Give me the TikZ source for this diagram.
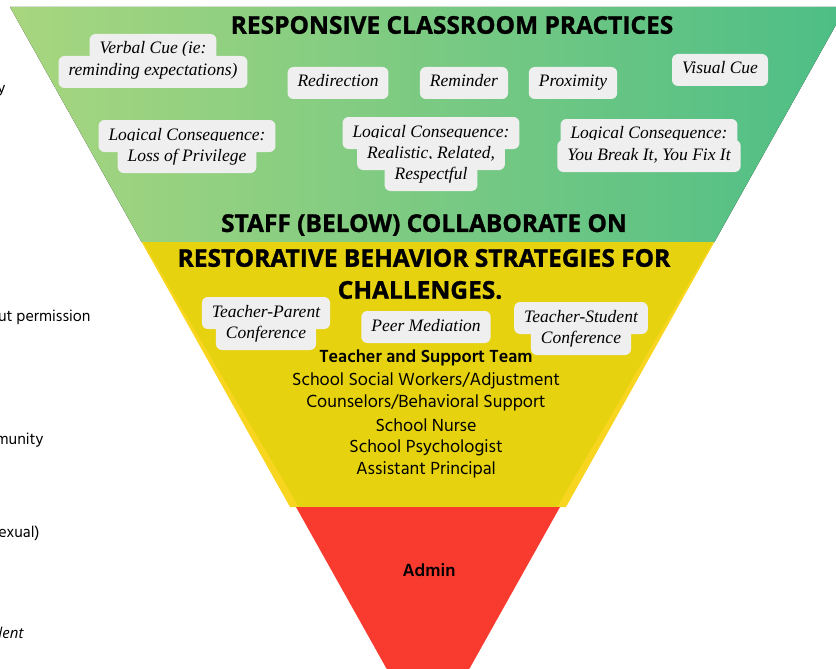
\documentclass[tikz,border=0pt]{standalone}
\usepackage{fontspec}
\setmainfont{Liberation Serif}
\newfontfamily\headfont{Open Sans}
\newfontfamily\heavyfont[FakeBold=1.2]{Open Sans Bold}
\newfontfamily\listfont{Hind Madurai}

\definecolor{greenL}{HTML}{A8D67F}
\definecolor{greenR}{HTML}{4DBE86}
\definecolor{yellowEdge}{HTML}{F8D51F}
\definecolor{yellowMid}{HTML}{E6D20F}
\definecolor{adminRed}{HTML}{F93A2F}
\definecolor{cueGray}{HTML}{EFEFEF}

\tikzset{
    cue/.style={fill=cueGray, rounded corners=6pt, inner xsep=10pt, inner ysep=0pt,
        minimum height=32pt, text height=11.5pt, text depth=3.5pt,
        font=\fontsize{17.5}{20}\selectfont\itshape},
    heading/.style={font=\heavyfont\fontsize{24.5}{29}\selectfont},
    staff/.style={font=\listfont\fontsize{18}{21}\selectfont},
    cutoff/.style={anchor=east, font=\listfont\fontsize{16}{19}\selectfont}
}

\begin{document}
\begin{tikzpicture}[x=1pt,y=-1pt]
    \useasboundingbox (0,0) rectangle (836,669);
    \clip (0,0) rectangle (836,669);

    % funnel: green, yellow, red
    \fill[left color=greenL, right color=greenR] (10,7) -- (846,7) -- (714.4,242) -- (141.6,242) -- cycle;
    \fill[yellowEdge] (141.6,242) -- (714.4,242) -- (566,507) -- (290,507) -- cycle;
    \fill[yellowMid] (143,242) -- (713,242) -- (557,507) -- (299,507) -- cycle;
    \fill[adminRed] (296,507) -- (560,507) -- (462,682) -- (394,682) -- cycle;

    % text cut off at the left border
    \node[cutoff] (cutY) at (9,91) {y};
    \node[cutoff] (cutPerm) at (94,317) {ut permission};
    \node[cutoff] (cutComm) at (47,440) {munity};
    \node[cutoff] (cutSex) at (43,533) {exual)};
    \node[cutoff, font=\headfont\itshape\fontsize{15}{18}\selectfont] (cutDent) at (27,633) {dent};

    \node[heading] (title) at (452,25) {RESPONSIVE CLASSROOM PRACTICES};

    \node[cue] (verbalA) at (153,50) {Verbal Cue (ie:};
    \node[cue] (verbalB) at (153,72) {reminding expectations)};
    \node[cue] (redirect) at (338,83) {Redirection};
    \node[cue] (remind) at (464,83) {Reminder};
    \node[cue] (proximity) at (573,83) {Proximity};
    \node[cue] (visual) at (720,70) {Visual Cue};

    \node[cue] (lossA) at (187,136) {Logical Consequence:};
    \node[cue] (lossB) at (187,157) {Loss of Privilege};
    \node[cue] (relA) at (431,133) {Logical Consequence:};
    \node[cue] (relB) at (431,154) {Realistic, Related,};
    \node[cue] (relC) at (431,175) {Respectful};
    \node[cue] (fixA) at (649,135) {Logical Consequence:};
    \node[cue] (fixB) at (649,156) {You Break It, You Fix It};

    \node[heading] (staffA) at (424,225) {STAFF (BELOW) COLLABORATE ON};
    \node[heading] (staffB) at (424,258) {RESTORATIVE BEHAVIOR STRATEGIES FOR};
    \node[heading] (staffC) at (420,290) {CHALLENGES.};

    \node[cue] (parentA) at (266,313) {Teacher-Parent};
    \node[cue] (parentB) at (266,334) {Conference};
    \node[cue] (peer) at (426,327) {Peer Mediation};
    \node[cue] (studentA) at (581,318) {Teacher-Student};
    \node[cue] (studentB) at (581,339) {Conference};

    \node[staff, font=\listfont\bfseries\fontsize{18}{21}\selectfont] (team) at (426,358) {Teacher and Support Team};
    \node[staff] (social) at (426,381) {School Social Workers/Adjustment};
    \node[staff] (counsel) at (426,403) {Counselors/Behavioral Support};
    \node[staff] (nurse) at (426,425) {School Nurse};
    \node[staff] (psych) at (426,448) {School Psychologist};
    \node[staff] (assist) at (426,470) {Assistant Principal};

    \node[staff, font=\listfont\bfseries\fontsize{18}{21}\selectfont] (admin) at (429,570) {Admin};
\end{tikzpicture}
\end{document}
